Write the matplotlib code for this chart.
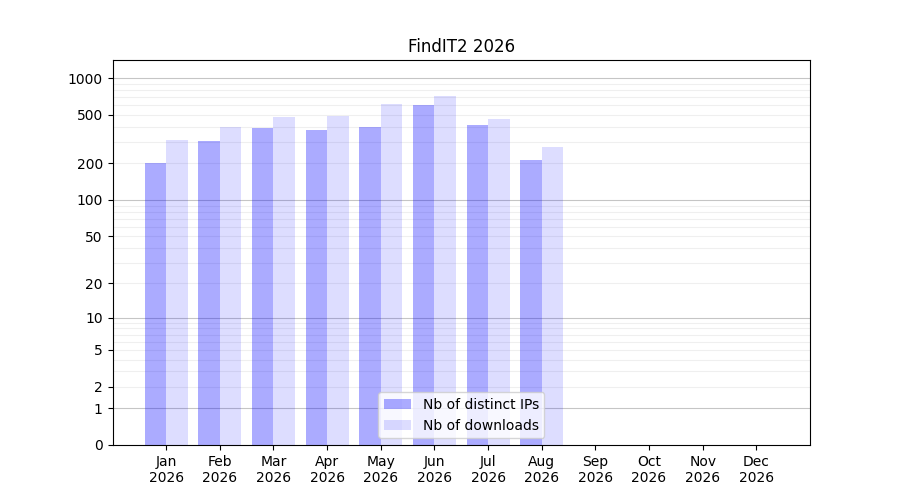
import matplotlib
matplotlib.use('Agg')
import matplotlib.pyplot as plt
import numpy as np
from matplotlib.ticker import FixedLocator

# Data
months = ['Jan', 'Feb', 'Mar', 'Apr', 'May', 'Jun', 'Jul', 'Aug', 'Sep', 'Oct', 'Nov', 'Dec']
year = '2026'
distinct_ips = [200, 305, 390, 375, 397, 602, 413, 213]
downloads = [311, 397, 480, 489, 614, 713, 462, 272]

major_ticks = [0, 1, 2, 5, 10, 20, 50, 100, 200, 500, 1000]
grid_major = [1, 10, 100, 1000]
grid_minor = [m * d for d in (1, 10, 100) for m in range(2, 10)]


def fwd(y):
    return np.log10(1 + np.asarray(y, dtype=float))


def inv(y):
    return 10 ** np.asarray(y, dtype=float) - 1


fig, ax = plt.subplots(figsize=(9, 5), dpi=100)

x = np.arange(len(months))
ax.bar(x[:len(distinct_ips)], distinct_ips, width=-0.4, align='edge',
       color='blue', alpha=0.33, label='Nb of distinct IPs')
ax.bar(x[:len(downloads)], downloads, width=0.4, align='edge',
       color='blue', alpha=0.135, label='Nb of downloads')

ax.set_yscale('function', functions=(fwd, inv))
ax.set_ylim(0, 1410)
ax.set_xlim(-1, 12)

ax.yaxis.set_major_locator(FixedLocator(major_ticks))
ax.set_yticklabels([str(t) for t in major_ticks])
ax.yaxis.set_minor_locator(FixedLocator(grid_minor))
ax.tick_params(axis='y', which='minor', length=0)

for g in grid_major:
    ax.axhline(g, color='gray', alpha=0.45, linewidth=0.8, zorder=0.5)
for g in grid_minor:
    ax.axhline(g, color='gray', alpha=0.12, linewidth=0.8, zorder=0.5)

ax.set_xticks(x)
ax.set_xticklabels([f'{m}\n{year}' for m in months])

ax.set_title('FindIT2 2026')
ax.legend(loc='lower center')

plt.savefig('out.png', dpi=100)
